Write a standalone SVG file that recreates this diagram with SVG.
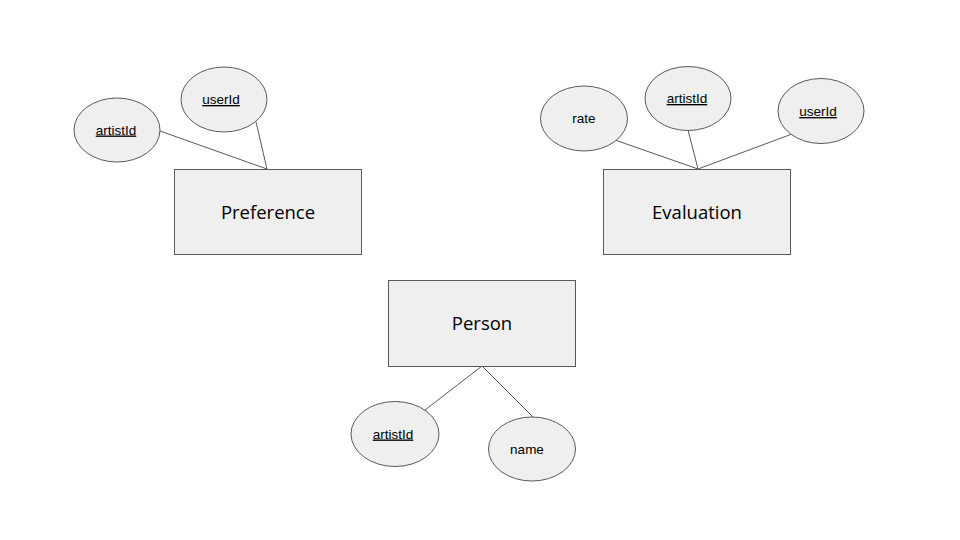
<svg xmlns="http://www.w3.org/2000/svg" width="960" height="540" viewBox="0 0 960 540">
<style>
.ent{fill:#efefef;stroke:#595959;stroke-width:1}
.att{fill:#efefef;stroke:#595959;stroke-width:1}
.et{font-family:"Open Sans",sans-serif;font-size:18.5px;fill:#000;text-anchor:middle}
.at{font-family:"Liberation Sans",Arial,sans-serif;font-size:13.5px;fill:#000;text-anchor:middle}
.k{text-decoration:underline}
.c{stroke:#595959;stroke-width:1;fill:none}
</style>
<rect width="960" height="540" fill="#ffffff"/>
<g id="connectors">
<line class="c" x1="160" y1="131" x2="267" y2="169"/>
<line class="c" x1="256" y1="122" x2="267" y2="169"/>
<line class="c" x1="615" y1="140" x2="698" y2="169"/>
<line class="c" x1="688" y1="130" x2="698" y2="169"/>
<line class="c" x1="792" y1="134" x2="698" y2="169"/>
<line class="c" x1="482" y1="366" x2="425" y2="410"/>
<line class="c" x1="482" y1="366" x2="533" y2="417"/>
</g>
<g id="preference">
<rect class="ent" x="174.5" y="169.5" width="187" height="85"/>
<text class="et" x="268" y="218.5">Preference</text>
</g>
<g id="pref-artistId">
<ellipse class="att" cx="117" cy="130" rx="43" ry="32"/>
<text class="at k" x="116" y="134.5">artistId</text>
</g>
<g id="pref-userId">
<ellipse class="att" cx="224" cy="99.5" rx="43" ry="32.5"/>
<text class="at k" x="221" y="104">userId</text>
</g>
<g id="evaluation">
<rect class="ent" x="603.5" y="169.5" width="187" height="85"/>
<text class="et" x="697" y="218.5">Evaluation</text>
</g>
<g id="eval-rate">
<ellipse class="att" cx="584" cy="118.5" rx="43.5" ry="32.5"/>
<text class="at" x="584" y="123">rate</text>
</g>
<g id="eval-artistId">
<ellipse class="att" cx="688" cy="98.5" rx="43" ry="32"/>
<text class="at k" x="687" y="103">artistId</text>
</g>
<g id="eval-userId">
<ellipse class="att" cx="821" cy="111" rx="43" ry="32.5"/>
<text class="at k" x="818" y="116">userId</text>
</g>
<g id="person">
<rect class="ent" x="388.5" y="280.5" width="187" height="86"/>
<text class="et" x="482" y="329.5">Person</text>
</g>
<g id="person-artistId">
<ellipse class="att" cx="395" cy="434" rx="44" ry="32.5"/>
<text class="at k" x="393" y="438.5">artistId</text>
</g>
<g id="person-name">
<ellipse class="att" cx="532" cy="449" rx="43.5" ry="32"/>
<text class="at" x="527" y="454">name</text>
</g>
</svg>
